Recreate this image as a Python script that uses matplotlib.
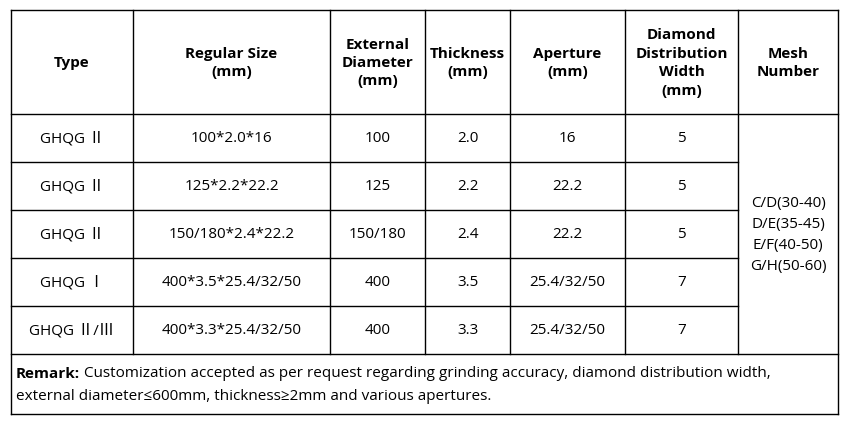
import matplotlib.pyplot as plt

W, H = 847, 427

headers = ["Type", "Regular Size\n(mm)", "External\nDiameter\n(mm)", "Thickness\n(mm)",
           "Aperture\n(mm)", "Diamond\nDistribution\nWidth\n(mm)", "Mesh\nNumber"]
types = ["GHQG Ⅱ", "GHQG Ⅱ", "GHQG Ⅱ", "GHQG Ⅰ", "GHQG Ⅱ/Ⅲ"]
sizes = ["100*2.0*16", "125*2.2*22.2", "150/180*2.4*22.2", "400*3.5*25.4/32/50", "400*3.3*25.4/32/50"]
diameters = ["100", "125", "150/180", "400", "400"]
thickness = ["2.0", "2.2", "2.4", "3.5", "3.3"]
apertures = ["16", "22.2", "22.2", "25.4/32/50", "25.4/32/50"]
widths = ["5", "5", "5", "7", "7"]
mesh = "C/D(30-40)\nD/E(35-45)\nE/F(40-50)\nG/H(50-60)"
remark_bold = "Remark:"
remark = ["Customization accepted as per request regarding grinding accuracy, diamond distribution width,",
          "external diameter≤600mm, thickness≥2mm and various apertures."]

cols = [11, 133, 330, 425, 510, 625, 738, 838]
rows = [11, 115, 163, 211, 259, 307, 355, 415]
fam = ["Open Sans", "Noto Sans CJK SC", "DejaVu Sans"]
fs = 11

fig = plt.figure(figsize=(W / 100, H / 100), dpi=100)
ax = fig.add_axes([0, 0, 1, 1])
ax.set_xlim(0, W)
ax.set_ylim(H, 0)
ax.axis("off")

lw = 1.0
for i, y in enumerate(rows):
    # inner row lines stop at the merged mesh column
    x1 = cols[6] if 2 <= i <= 5 else cols[-1]
    ax.plot([cols[0], x1], [y, y], color="black", lw=lw)
for x in (cols[0], cols[-1]):
    ax.plot([x, x], [rows[0], rows[-1]], color="black", lw=lw)
for x in cols[1:-1]:
    ax.plot([x, x], [rows[0], rows[6]], color="black", lw=lw)

def cx(i):
    return (cols[i] + cols[i + 1]) / 2

for i, h in enumerate(headers):
    ax.text(cx(i), (rows[0] + rows[1]) / 2, h, ha="center", va="center",
            fontsize=fs, fontweight="bold", family=fam, linespacing=1.4)

data = [types, sizes, diameters, thickness, apertures, widths]
for r in range(5):
    yc = (rows[r + 1] + rows[r + 2]) / 2
    for c, col in enumerate(data):
        ax.text(cx(c), yc, col[r], ha="center", va="center", fontsize=fs, family=fam)

ax.text(cx(6), (rows[1] + rows[6]) / 2, mesh, ha="center", va="center",
        fontsize=fs, family=fam, linespacing=1.55)

ty = (rows[6] + rows[7]) / 2
t = ax.text(16, ty - 11, remark_bold, ha="left", va="center", fontsize=fs,
            fontweight="bold", family=fam)
fig.canvas.draw()
bb = t.get_window_extent()
x0 = ax.transData.inverted().transform((bb.x1, 0))[0]
ax.text(x0 + 4, ty - 11, remark[0], ha="left", va="center", fontsize=fs, family=fam)
ax.text(16, ty + 12, remark[1], ha="left", va="center", fontsize=fs, family=fam)

fig.savefig("out.png", dpi=100)
